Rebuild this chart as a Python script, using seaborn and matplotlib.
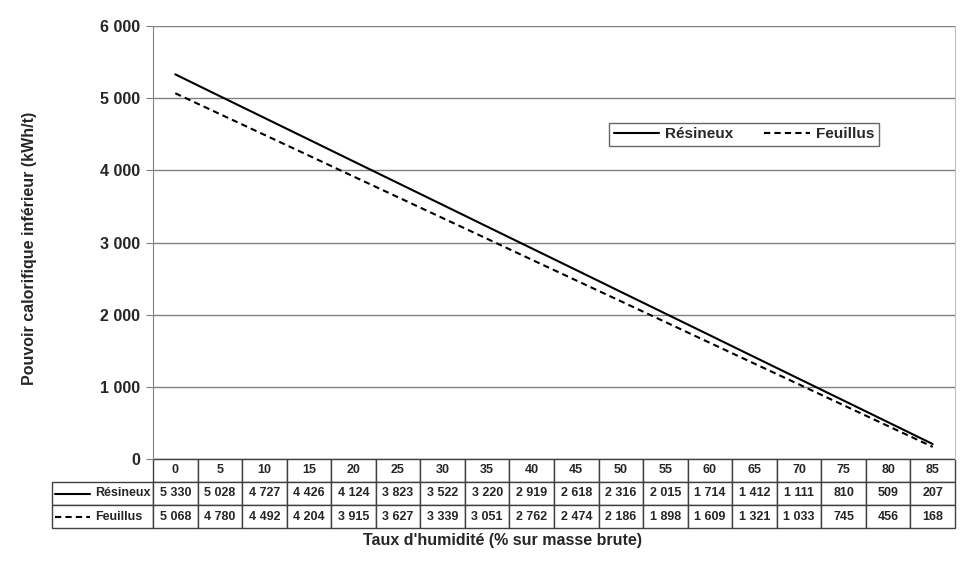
"""Pouvoir calorifique inférieur du bois selon le taux d'humidité, avec tableau de données.
"""

import pandas as pd
import matplotlib
matplotlib.use('Agg')
import matplotlib.pyplot as plt
from matplotlib.lines import Line2D
import seaborn as sns

# Données
humidite = [0, 5, 10, 15, 20, 25, 30, 35, 40, 45, 50, 55, 60, 65, 70, 75, 80, 85]
resineux = [5330, 5028, 4727, 4426, 4124, 3823, 3522, 3220, 2919, 2618,
            2316, 2015, 1714, 1412, 1111, 810, 509, 207]
feuillus = [5068, 4780, 4492, 4204, 3915, 3627, 3339, 3051, 2762, 2474,
            2186, 1898, 1609, 1321, 1033, 745, 456, 168]
y_ticks = [0, 1000, 2000, 3000, 4000, 5000, 6000]


def fmt(v):
    return f"{v:,}".replace(",", " ")


sns.set_style('white')
plt.rcParams['font.family'] = ['Liberation Sans', 'DejaVu Sans']
plt.rcParams['font.weight'] = 'bold'

# Table longue pour seaborn
df = pd.DataFrame({
    'pos': list(range(len(humidite))) * 2,
    'pci': resineux + feuillus,
    'Essence': ['Résineux'] * len(humidite) + ['Feuillus'] * len(humidite),
})

fig = plt.figure(figsize=(9.68, 5.83), dpi=100)
W, H = 968, 583
ax = fig.add_axes([153 / W, (H - 459) / H, 802 / W, 433 / H])

sns.lineplot(data=df, x='pos', y='pci', style='Essence',
             dashes={'Résineux': '', 'Feuillus': (3, 2)},
             color='black', linewidth=1.5, ax=ax, legend=False)

ax.set_xlim(-0.5, len(humidite) - 0.5)
ax.set_ylim(0, 6000)
ax.set_yticks(y_ticks)
ax.set_yticklabels([fmt(v) for v in y_ticks], fontsize=11.5, fontweight='bold')
ax.set_xticks([])
ax.set_xlabel('')
ax.set_ylabel('')
ax.yaxis.grid(True, color='#808080', linewidth=1)
ax.tick_params(axis='y', direction='out', length=5, color='#808080', left=True, pad=4)
for side in ['top', 'bottom']:
    ax.spines[side].set_visible(False)
ax.spines['left'].set_color('#808080')
ax.spines['right'].set_color('#c0c0c0')

# Légende
handles = [Line2D([], [], color='black', lw=1.5),
           Line2D([], [], color='black', lw=1.5, dashes=(3, 2))]
leg = ax.legend(handles, ['Résineux', 'Feuillus'], ncol=2, loc='center',
                bbox_to_anchor=(0.737, 0.75), frameon=True, fancybox=False,
                edgecolor='#404040', handlelength=3, handletextpad=0.4,
                columnspacing=2.0, prop={'weight': 'bold', 'size': 11},
                borderpad=0.3)
leg.get_frame().set_linewidth(1)

# Tableau de données sous le graphique
label_w = 101 / 802
col_w = 1 / len(humidite)
cell_text = [[''] + [str(h) for h in humidite],
             ['Résineux'] + [fmt(v) for v in resineux],
             ['Feuillus'] + [fmt(v) for v in feuillus]]
row_h = 23 / 433
tbl = ax.table(cellText=cell_text, cellLoc='center',
               colWidths=[label_w] + [col_w] * len(humidite),
               bbox=[-label_w, -3 * row_h, 1 + label_w, 3 * row_h])
tbl.auto_set_font_size(False)
tbl.set_fontsize(9)
for (r, c), cell in tbl.get_celld().items():
    cell.set_edgecolor('#404040')
    cell.set_linewidth(1)
    cell.get_text().set_fontweight('bold')
    if c == 0:
        cell.get_text().set_ha('right')
        cell.PAD = 0.02
    if r == 2 and c == 0:
        cell.get_text().set_ha('left')
        cell.PAD = 0.43
    if r == 0 and c == 0:
        cell.visible_edges = ''

# Échantillons de traits dans les étiquettes du tableau
for i, style in enumerate(['-', (0, (3, 2))]):
    yc = -(1.5 + i) * row_h
    ax.add_line(Line2D([-label_w + 0.004, -label_w + 0.048], [yc, yc],
                       color='black', lw=1.5, linestyle=style,
                       transform=ax.transAxes, clip_on=False))

fig.text(503 / W, 1 - 541 / H, "Taux d'humidité (% sur masse brute)",
         ha='center', va='center', fontsize=11.5, fontweight='bold')
fig.text(30 / W, 1 - 248 / H, 'Pouvoir calorifique inférieur (kWh/t)',
         ha='center', va='center', rotation=90, fontsize=11.5, fontweight='bold')

fig.savefig('out.png', dpi=100)
